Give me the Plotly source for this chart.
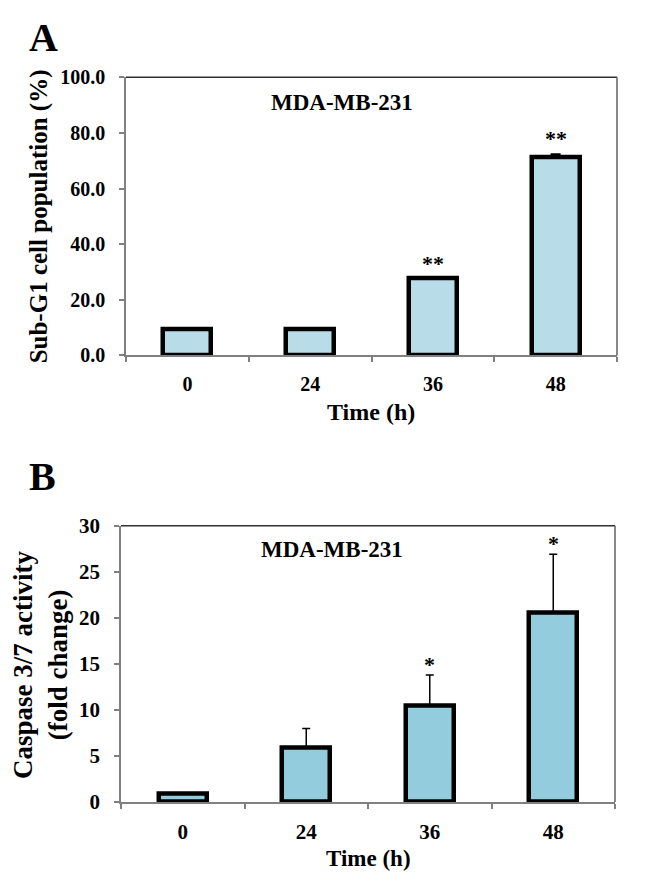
import plotly.graph_objects as go

W, H = 666, 890
FONT = "Liberation Serif, Times New Roman, serif"

# ---- data ----
times = ["0", "24", "36", "48"]
subg1_values = [9.3, 9.3, 27.6, 71.3]
subg1_errors = [0.0, 0.0, 0.0, 1.0]
subg1_sig = ["", "", "**", "**"]

caspase_values = [0.9, 5.9, 10.5, 20.6]
caspase_errors = [0.0, 2.1, 3.3, 6.3]
caspase_sig = ["", "", "*", "*"]

# ---- layout geometry (pixels) ----
A_x0, A_x1, A_y0, A_y1 = 126, 617, 67, 353
B_x0, B_x1, B_y0, B_y1 = 121, 615, 528, 812


def px(x):
    return x / W


def py(y):
    return 1 - y / H


fig = go.Figure()

fig.add_trace(go.Bar(
    x=times, y=subg1_values, width=0.39,
    marker=dict(color="#B8DDE8", line=dict(color="black", width=4.5)),
    error_y=dict(type="data", array=subg1_errors, arrayminus=[0] * 4,
                 symmetric=False, color="black", thickness=2, width=5),
    xaxis="x", yaxis="y", showlegend=False,
))
fig.add_trace(go.Bar(
    x=times, y=caspase_values, width=0.39,
    marker=dict(color="#93CDDD", line=dict(color="black", width=4.5)),
    error_y=dict(type="data", array=caspase_errors, arrayminus=[0] * 4,
                 symmetric=False, color="black", thickness=1.5, width=4),
    xaxis="x2", yaxis="y2", showlegend=False,
))


def tickfont(s):
    return dict(family=FONT, size=s, color="black", weight="bold")


axis_common = dict(showgrid=False, zeroline=False, showline=True,
                   linecolor="#808080", linewidth=1.5,
                   ticks="outside", ticklen=5, tickcolor="#808080",
                   tickwidth=1.5)
xcat = dict(type="category", categoryorder="array", categoryarray=times,
            range=[-0.5, len(times) - 0.5], tickson="boundaries",
            tickangle=0, ticklabelstandoff=10)

fig.update_layout(
    width=W, height=H, margin=dict(l=0, r=0, t=0, b=0),
    paper_bgcolor="white", plot_bgcolor="white",
    bargap=0,
    xaxis=dict(domain=[px(A_x0), px(A_x1)], anchor="y", tickfont=tickfont(20),
               **xcat, **axis_common),
    yaxis=dict(domain=[py(A_y1), py(A_y0)], anchor="x", range=[0, 100],
               dtick=20, tickformat=".1f", ticklabelstandoff=10,
               tickfont=tickfont(20), **axis_common),
    xaxis2=dict(domain=[px(B_x0), px(B_x1)], anchor="y2", tickfont=tickfont(21),
                **xcat, **axis_common),
    yaxis2=dict(domain=[py(B_y1), py(B_y0)], anchor="x2", range=[0, 30],
                dtick=5, ticklabelstandoff=10, tickfont=tickfont(21), **axis_common),
)

# frame top & right
for xr, yr in (("x domain", "y domain"), ("x2 domain", "y2 domain")):
    fig.add_shape(type="line", xref=xr, yref=yr, x0=0, x1=1, y0=1, y1=1,
                  line=dict(color="#303030", width=1.5))
    fig.add_shape(type="line", xref=xr, yref=yr, x0=1, x1=1, y0=0, y1=1,
                  line=dict(color="#606060", width=1.5))

ann_font = lambda s: dict(family=FONT, size=s, color="black", weight="bold")
annotations = [
    dict(text="A", x=px(27), y=py(26), xanchor="left", yanchor="middle", font=ann_font(40)),
    dict(text="B", x=px(27), y=py(477), xanchor="left", yanchor="middle", font=ann_font(40)),
    dict(text="Sub-G1 cell population (%)", x=px(39), y=py(210), textangle=-90,
         xanchor="center", yanchor="middle", font=ann_font(25)),
    dict(text="Caspase 3/7 activity<br>(fold change)", x=px(41), y=py(671), textangle=-90,
         xanchor="center", yanchor="middle", font=ann_font(27)),
    dict(text="Time (h)", x=px(371), y=py(411), xanchor="center", yanchor="middle", font=ann_font(24)),
    dict(text="Time (h)", x=px(368), y=py(870), xanchor="center", yanchor="middle", font=ann_font(23)),
    dict(text="MDA-MB-231", x=px(342), y=py(93), xanchor="center", yanchor="middle", font=ann_font(23)),
    dict(text="MDA-MB-231", x=px(332), y=py(552), xanchor="center", yanchor="middle", font=ann_font(23)),
]
for a in annotations:
    a.update(xref="paper", yref="paper", showarrow=False)

for i, (v, e, s) in enumerate(zip(subg1_values, subg1_errors, subg1_sig)):
    if s:
        annotations.append(dict(text=s, x=i, y=v + e, xref="x", yref="y", showarrow=False,
                                xanchor="center", yanchor="bottom", yshift=1, font=ann_font(22)))
for i, (v, e, s) in enumerate(zip(caspase_values, caspase_errors, caspase_sig)):
    if s:
        annotations.append(dict(text=s, x=i, y=v + e, xref="x2", yref="y2", showarrow=False,
                                xanchor="center", yanchor="bottom", yshift=-4, font=ann_font(22)))

fig.update_layout(annotations=annotations)
fig.write_html("out.html", config={"displayModeBar": False},
               post_script="document.body.style.margin='0';document.body.style.padding='0';")
